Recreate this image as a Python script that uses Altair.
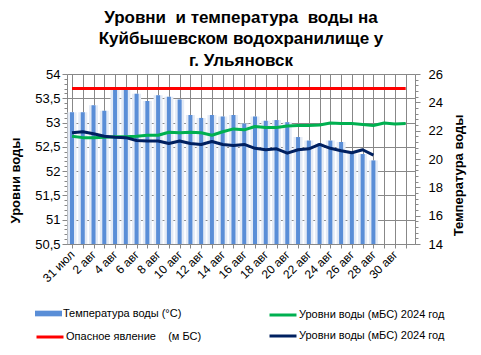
import json
import altair as alt
import pandas as pd

# ---------------- data ----------------
date_labels = ["31 июл"] + [f"{d} авг" for d in range(1, 32)]  # 32 days
temperature = [23.3, 23.3, 23.8, 23.4, 24.9, 24.9, 24.6, 24.1, 24.5, 24.4,
               24.2, 23.1, 22.9, 23.1, 23.0, 23.1, 22.5, 23.0, 22.7, 22.75,
               22.6, 21.55, 21.3, 21.1, 21.3, 21.2, 20.4, 20.35, 19.9]
level_green = [52.72, 52.69, 52.69, 52.70, 52.71, 52.71, 52.72, 52.74, 52.74, 52.80,
               52.79, 52.80, 52.79, 52.74, 52.81, 52.87, 52.85, 52.92, 52.90, 52.90,
               52.93, 52.94, 52.94, 52.95, 52.99, 52.98, 52.98, 52.96, 52.94, 52.99,
               52.97, 52.98]
level_navy = [52.79, 52.81, 52.77, 52.72, 52.70, 52.69, 52.63, 52.62, 52.62, 52.57,
              52.62, 52.57, 52.55, 52.61, 52.55, 52.53, 52.55, 52.47, 52.44, 52.46,
              52.37, 52.44, 52.46, 52.55, 52.47, 52.42, 52.38, 52.44, 52.33]
danger_level = 53.7

temp_label = "Температура воды (°С)"
danger_label = "Опасное явление\u00a0\u00a0\u00a0 (м\u00a0БС)"
level_keys = ["g", "n"]
level_labels = ["Уровни воды (мБС) 2024 год", "Уровни воды (мБС) 2024 год"]
temp_color = "#5A8ED7"
danger_color = "#FF0000"
level_colors = ["#00B050", "#002060"]

title_lines = ["Уровни\u00a0 и температура\u00a0 воды на",
               "Куйбышевском водохранилище у",
               "г. Ульяновск"]

# ---------------- frames ----------------
days = list(range(len(date_labels)))
temp_df = pd.DataFrame({"day": days[:len(temperature)], "temp": temperature, "series": temp_label})
danger_df = pd.DataFrame({"day": days, "level": [danger_level] * len(days), "series": danger_label})
levels_df = pd.concat([
    pd.DataFrame({"day": days, "level": level_green, "series": "g"}),
    pd.DataFrame({"day": days[:len(level_navy)], "level": level_navy, "series": "n"}),
])

FONT = "Liberation Sans"
GRID = "#888888"

shown = [lab if i % 2 == 0 else "" for i, lab in enumerate(date_labels)]
xscale = alt.Scale(domain=[0, 31.4], nice=False, zero=False)
xaxis = alt.Axis(values=days, labelExpr=f"{json.dumps(shown, ensure_ascii=False)}[datum.value]",
                 labelAngle=315, labelAlign="right", labelBaseline="middle",
                 labelFontSize=12, labelFont=FONT, labelColor="#000000",
                 labelPadding=4, labelOverlap=False, tickSize=4, tickColor=GRID,
                 domainColor=GRID, grid=True, gridColor=GRID, title=None)

major_l = "abs(datum.value*2 - round(datum.value*2)) < 0.001"
lvals = [round(50.5 + 0.1 * i, 1) for i in range(36)]
laxis = alt.Axis(values=lvals, orient="left",
                 labelExpr=f"({major_l}) ? replace(format(datum.value, '.2~f'), '.', ',') : ''",
                 labelFontSize=13, labelFont=FONT, labelColor="#000000", labelPadding=2,
                 labelOverlap=False,
                 tickSize={"condition": {"test": major_l, "value": 5}, "value": 3},
                 tickColor=GRID, domainColor=GRID, grid=True, gridColor=GRID,
                 gridOpacity={"condition": {"test": major_l, "value": 1}, "value": 0},
                 title="Уровни воды", titleFont=FONT, titleFontSize=13, titleFontWeight="bold",
                 titleAngle=270, titleX=-52, titleY=106, titleAlign="center", titleBaseline="middle")

major_r = "abs(datum.value/2 - round(datum.value/2)) < 0.001"
rvals = [round(14 + 0.4 * i, 1) for i in range(31)]
raxis = alt.Axis(values=rvals, orient="right",
                 labelExpr=f"({major_r}) ? format(datum.value, 'd') : ''",
                 labelFontSize=13, labelFont=FONT, labelColor="#000000", labelPadding=8,
                 labelOverlap=False,
                 tickSize={"condition": {"test": major_r, "value": 5}, "value": 3},
                 tickColor=GRID, domainColor=GRID, grid=False,
                 title="Температура воды", titleFont=FONT, titleFontSize=13, titleFontWeight="bold",
                 titleAngle=270, titleX=43, titleY=101, titleAlign="center", titleBaseline="middle")

def make_legend(x, y, width, label_expr=None, shape="stroke"):
    kw = dict(title=None, orient="none", legendX=x, legendY=y, columns=1,
              symbolType=shape, symbolSize=729, symbolStrokeWidth=width,
              labelFontSize=11, labelFont=FONT, labelColor="#000000", labelLimit=0,
              rowPadding=-5, padding=0, labelOffset=1)
    if label_expr:
        kw["labelExpr"] = label_expr
    return alt.Legend(**kw)

level_map = "{" + ", ".join(f"{json.dumps(k)}: {json.dumps(v, ensure_ascii=False)}"
                            for k, v in zip(level_keys, level_labels)) + "}"

tscale = alt.Scale(domain=[14, 26], nice=False, zero=False)
lscale = alt.Scale(domain=[50.5, 54], nice=False, zero=False)

glow = alt.Chart(temp_df).mark_bar(width=9, color="#E4EBF6", clip=True).encode(
    x=alt.X("day:Q", scale=xscale, axis=xaxis),
    y=alt.Y("temp:Q", scale=tscale, axis=None),
    y2=alt.datum(14),
)
bars = alt.Chart(temp_df).mark_bar(width=4, clip=True).encode(
    x=alt.X("day:Q", scale=xscale, axis=xaxis),
    y=alt.Y("temp:Q", scale=tscale, axis=raxis),
    y2=alt.datum(14),
    fill=alt.Fill("series:N", scale=alt.Scale(range=[temp_color]),
                  legend=make_legend(-32, 226, 0, shape="M-1,-0.21H1V0.21H-1Z")),
)
danger = alt.Chart(danger_df).mark_line(strokeWidth=3).encode(
    x=alt.X("day:Q", scale=xscale, axis=xaxis),
    y=alt.Y("level:Q", scale=lscale, axis=laxis),
    color=alt.Color("series:N", scale=alt.Scale(range=[danger_color]),
                    legend=make_legend(-32, 248, 3)),
)
levels = alt.Chart(levels_df).mark_line(strokeWidth=3, strokeJoin="round").encode(
    x=alt.X("day:Q", scale=xscale, axis=xaxis),
    y=alt.Y("level:Q", scale=lscale, axis=laxis),
    stroke=alt.Stroke("series:N", scale=alt.Scale(domain=level_keys, range=level_colors),
                      legend=make_legend(201, 226, 3, f"{level_map}[datum.value]")),
)

lines = alt.layer(danger, levels)
chart = alt.layer(glow, bars, lines).resolve_scale(y="independent").properties(
    width=348, height=170,
    padding={"left": 59, "top": 66, "right": 58, "bottom": 110},
    autosize=alt.AutoSizeParams(type="none"),
    title=alt.Title(text=title_lines, font=FONT, fontSize=17, fontWeight="bold",
                    color="#000000", anchor="middle", baseline="alphabetic",
                    lineHeight=21.5, offset=-14.5),
).configure_view(fill="#F2F2F2", stroke=GRID).configure(background="#FFFFFF")

chart.save("out.html", embed_options={"renderer": "svg", "actions": False})
